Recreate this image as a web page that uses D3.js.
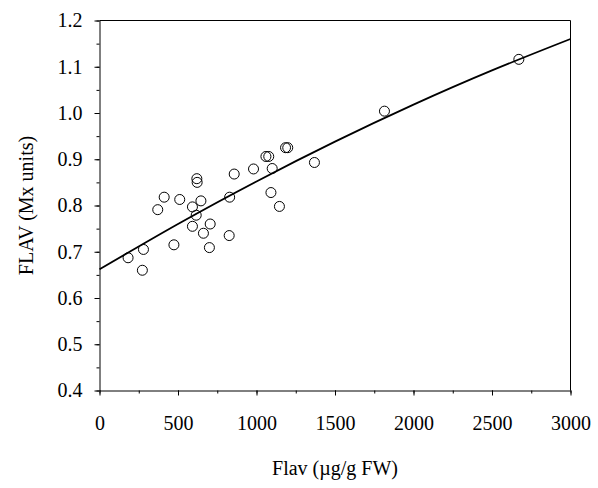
<!DOCTYPE html>
<html>
<head>
<meta charset="utf-8">
<script src="https://cdn.jsdelivr.net/npm/d3@7"></script>
<style>
  html, body { margin: 0; padding: 0; background: #fff; }
  svg { display: block; }
  text { font-family: "Liberation Serif", "Times New Roman", serif; fill: #000; }
</style>
</head>
<body>
<svg id="chart" width="598" height="488"></svg>
<script>
// ---- data ----
const flavX = [182, 280, 273, 371, 412, 474, 511, 592, 620, 622, 616, 646, 592, 662, 705, 700,
               829, 826, 858, 981, 1060, 1078, 1100, 1092, 1146, 1185, 1199, 1369, 1815, 2671];
const flavMx = [0.687, 0.705, 0.660, 0.791, 0.818, 0.715, 0.813, 0.797, 0.858, 0.850, 0.779, 0.810, 0.755, 0.740, 0.760, 0.709,
                0.818, 0.735, 0.868, 0.879, 0.906, 0.906, 0.880, 0.828, 0.798, 0.925, 0.925, 0.893, 1.004, 1.116];
// fitted curve, read at regular positions
const fitX = [0, 500, 1000, 1500, 2000, 2500, 3000];
const fitY = [0.662, 0.760, 0.852, 0.938, 1.018, 1.092, 1.160];
const xTicks = [0, 500, 1000, 1500, 2000, 2500, 3000];
const yTicks = [0.4, 0.5, 0.6, 0.7, 0.8, 0.9, 1.0, 1.1, 1.2];
const xTitle = "Flav (\u00b5g/g FW)";
const yTitle = "FLAV (Mx units)";

// ---- layout ----
const mLeft = 99.5, mRight = 570.5, mTop = 20.5, mBottom = 390.5;
const fs = 20;
const svg = d3.select("#chart");

const x = d3.scaleLinear().domain([0, 3000]).range([mLeft, mRight]);
const y = d3.scaleLinear().domain([0.4, 1.2]).range([mBottom, mTop]);

// minor ticks
const xMinor = d3.range(0, 3001, 250);
const yMinor = d3.range(0, 17).map(i => 0.4 + i * 0.05);

svg.append("g")
  .attr("transform", `translate(0,${mBottom})`)
  .call(d3.axisBottom(x).tickValues(xMinor).tickSize(3).tickFormat("").tickSizeOuter(0))
  .call(g => g.select(".domain").remove())
  .call(g => g.selectAll("line").attr("stroke", "#000"));

svg.append("g")
  .attr("transform", `translate(${mLeft},0)`)
  .call(d3.axisLeft(y).tickValues(yMinor).tickSize(3).tickFormat("").tickSizeOuter(0))
  .call(g => g.select(".domain").remove())
  .call(g => g.selectAll("line").attr("stroke", "#000"));

// major axes
const xAxis = svg.append("g")
  .attr("transform", `translate(0,${mBottom})`)
  .call(d3.axisBottom(x).tickValues(xTicks).tickSize(5).tickSizeOuter(0).tickPadding(20).tickFormat(d3.format("d")));
xAxis.attr("font-size", fs).attr("font-family", "Liberation Serif");
xAxis.selectAll("text").attr("font-size", fs);
xAxis.selectAll("line, path").attr("stroke", "#000");

const yAxis = svg.append("g")
  .attr("transform", `translate(${mLeft},0)`)
  .call(d3.axisLeft(y).tickValues(yTicks).tickSize(5).tickSizeOuter(0).tickPadding(12).tickFormat(d3.format(".1f")));
yAxis.attr("font-size", fs).attr("font-family", "Liberation Serif");
yAxis.selectAll("text").attr("font-size", fs);
yAxis.selectAll("line, path").attr("stroke", "#000");

// frame top & right
svg.append("path")
  .attr("d", `M${mLeft},${mTop}H${mRight}V${mBottom}`)
  .attr("fill", "none").attr("stroke", "#000").attr("stroke-width", 1);

// fitted curve
const fitData = fitX.map((v, i) => [v, fitY[i]]);
svg.append("path")
  .datum(fitData)
  .attr("fill", "none")
  .attr("stroke", "#000")
  .attr("stroke-width", 1.8)
  .attr("d", d3.line().x(d => x(d[0])).y(d => y(d[1])).curve(d3.curveNatural));

// points
svg.append("g").selectAll("circle")
  .data(flavX.map((v, i) => [v, flavMx[i]]))
  .join("circle")
  .attr("cx", d => x(d[0]))
  .attr("cy", d => y(d[1]))
  .attr("r", 5)
  .attr("fill", "none")
  .attr("stroke", "#000")
  .attr("stroke-width", 1);

// titles
svg.append("text")
  .attr("x", (mLeft + mRight) / 2)
  .attr("y", 475)
  .attr("text-anchor", "middle")
  .attr("font-size", fs)
  .text(xTitle);

svg.append("text")
  .attr("transform", `translate(33,${(mTop + mBottom) / 2}) rotate(-90)`)
  .attr("text-anchor", "middle")
  .attr("font-size", fs)
  .text(yTitle);
</script>
</body>
</html>
